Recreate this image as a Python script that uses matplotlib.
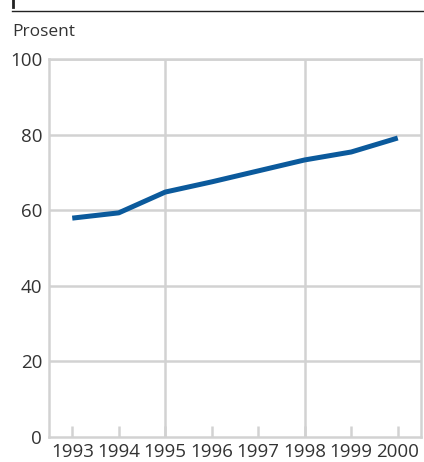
import matplotlib.pyplot as plt
from matplotlib.lines import Line2D

plt.rcParams['font.family'] = ['Open Sans', 'DejaVu Sans']

years = [1993, 1994, 1995, 1996, 1997, 1998, 1999, 2000]
prosent = [57.9, 59.3, 64.8, 67.5, 70.4, 73.3, 75.4, 79.1]
yticks = [0, 20, 40, 60, 80, 100]
grid_years = [1995, 1998]

grey = '#d2d2d2'
text_col = '#333333'

fig = plt.figure(figsize=(4.24, 4.62), dpi=100)
ax = fig.add_axes([49/424, 1 - 437/462, (421-49)/424, (437-59)/462])

ax.plot(years, prosent, color='#0b5a9c', lw=3.6, solid_capstyle='butt', zorder=3)

ax.set_xlim(1992.5, 2000.5)
ax.set_ylim(0, 100)
ax.set_yticks(yticks)
ax.set_xticks(years)
ax.set_xticklabels([str(y) for y in years])

for y in yticks[1:]:
    ax.axhline(y, color=grey, lw=1.8, zorder=1)
for x in grid_years:
    ax.axvline(x, color=grey, lw=1.8, zorder=1)

for s in ax.spines.values():
    s.set_color(grey)
    s.set_linewidth(1.8)

ax.tick_params(axis='x', direction='in', length=8, width=1.8, color=grey,
               labelsize=13.5, labelcolor=text_col, pad=4)
ax.tick_params(axis='y', length=0, labelsize=13.5, labelcolor=text_col, pad=5)

fig.text(12/424, 1 - 32/462, 'Prosent', fontsize=12.5, color=text_col, va='center')
fig.add_artist(Line2D([12/424, 1], [1 - 11/462, 1 - 11/462], color='#222222', lw=1.0))
fig.add_artist(Line2D([13/424, 13/424], [1 - 7/462, 1], color='#222222', lw=2))

fig.savefig('out.png', dpi=100)
